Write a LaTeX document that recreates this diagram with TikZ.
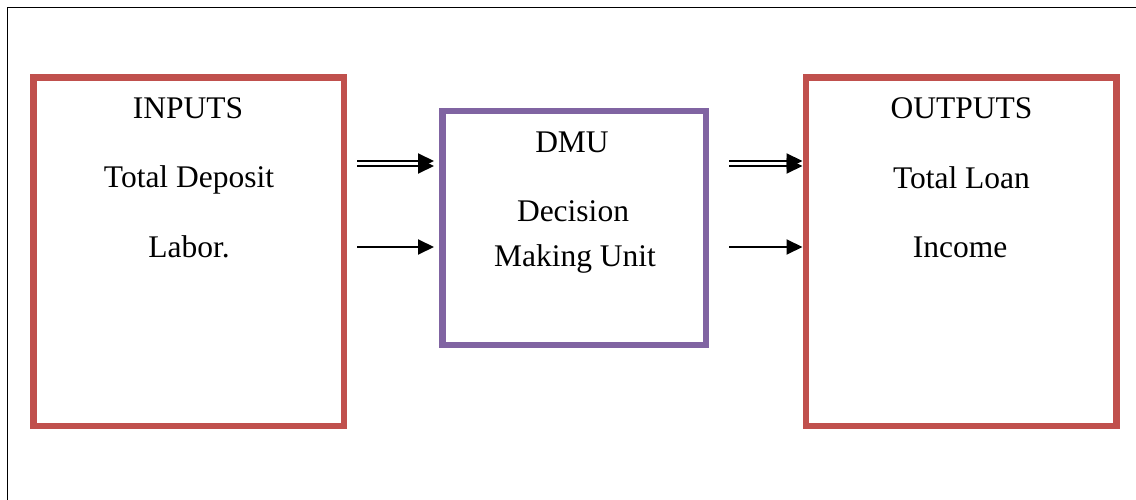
\documentclass[tikz,border=0pt]{standalone}
\usepackage{fontspec}
\setmainfont{Liberation Serif}
\usetikzlibrary{arrows.meta}
\definecolor{boxred}{HTML}{C0504D}
\definecolor{boxpurple}{HTML}{8064A2}
\begin{document}
\begin{tikzpicture}[x=1pt,y=-1pt,
  lbl/.style={anchor=base,inner sep=0pt,font=\fontsize{31.5}{36}\selectfont},
  bigbox/.style={draw=boxred,line width=6.5pt,minimum width=310.5pt,minimum height=348.5pt,inner sep=0pt},
  midbox/.style={draw=boxpurple,line width=6.5pt,minimum width=263.5pt,minimum height=234pt,inner sep=0pt},
  flow/.style={line width=2pt,-{Triangle[length=16pt,width=15pt]}},
  frame/.style={line width=1.3pt,black}]
\useasboundingbox (0,0) rectangle (1136,500);
% frame
\coordinate (f1) at (7.5,500);
\coordinate (f2) at (7.5,7.5);
\coordinate (f3) at (1136,7.5);
\draw[frame] (f1) -- (f2) -- (f3);
% boxes
\node[bigbox] (inbox) at (188.75,251.75) {};
\node[midbox] (dmu) at (574.25,228) {};
\node[bigbox] (outbox) at (961,251.75) {};
% texts
\node[lbl] (t1) at (188,119) {INPUTS};
\node[lbl] (t2) at (189,188) {Total Deposit};
\node[lbl] (t3) at (189,258) {Labor.};
\node[lbl] (t4) at (572,153) {DMU};
\node[lbl] (t5) at (573,222) {Decision};
\node[lbl] (t6) at (575,266) {Making Unit};
\node[lbl] (t7) at (961.5,119) {OUTPUTS};
\node[lbl] (t8) at (961.5,189) {Total Loan};
\node[lbl] (t9) at (960,258) {Income};
% arrows in
\coordinate (a1) at (357,161);
\coordinate (a2) at (357,166);
\coordinate (a3) at (357,247);
\coordinate (a1e) at (434,161);
\coordinate (a2e) at (434,166);
\coordinate (a3e) at (434,247);
\draw[flow] (a1) -- (a1e);
\draw[flow] (a2) -- (a2e);
\draw[flow] (a3) -- (a3e);
% arrows out
\coordinate (b1) at (729,161);
\coordinate (b2) at (729,166);
\coordinate (b3) at (729,247);
\draw[flow] (b1) -- (b1 -| outbox.west);
\draw[flow] (b2) -- (b2 -| outbox.west);
\draw[flow] (b3) -- (b3 -| outbox.west);
\end{tikzpicture}
\end{document}
